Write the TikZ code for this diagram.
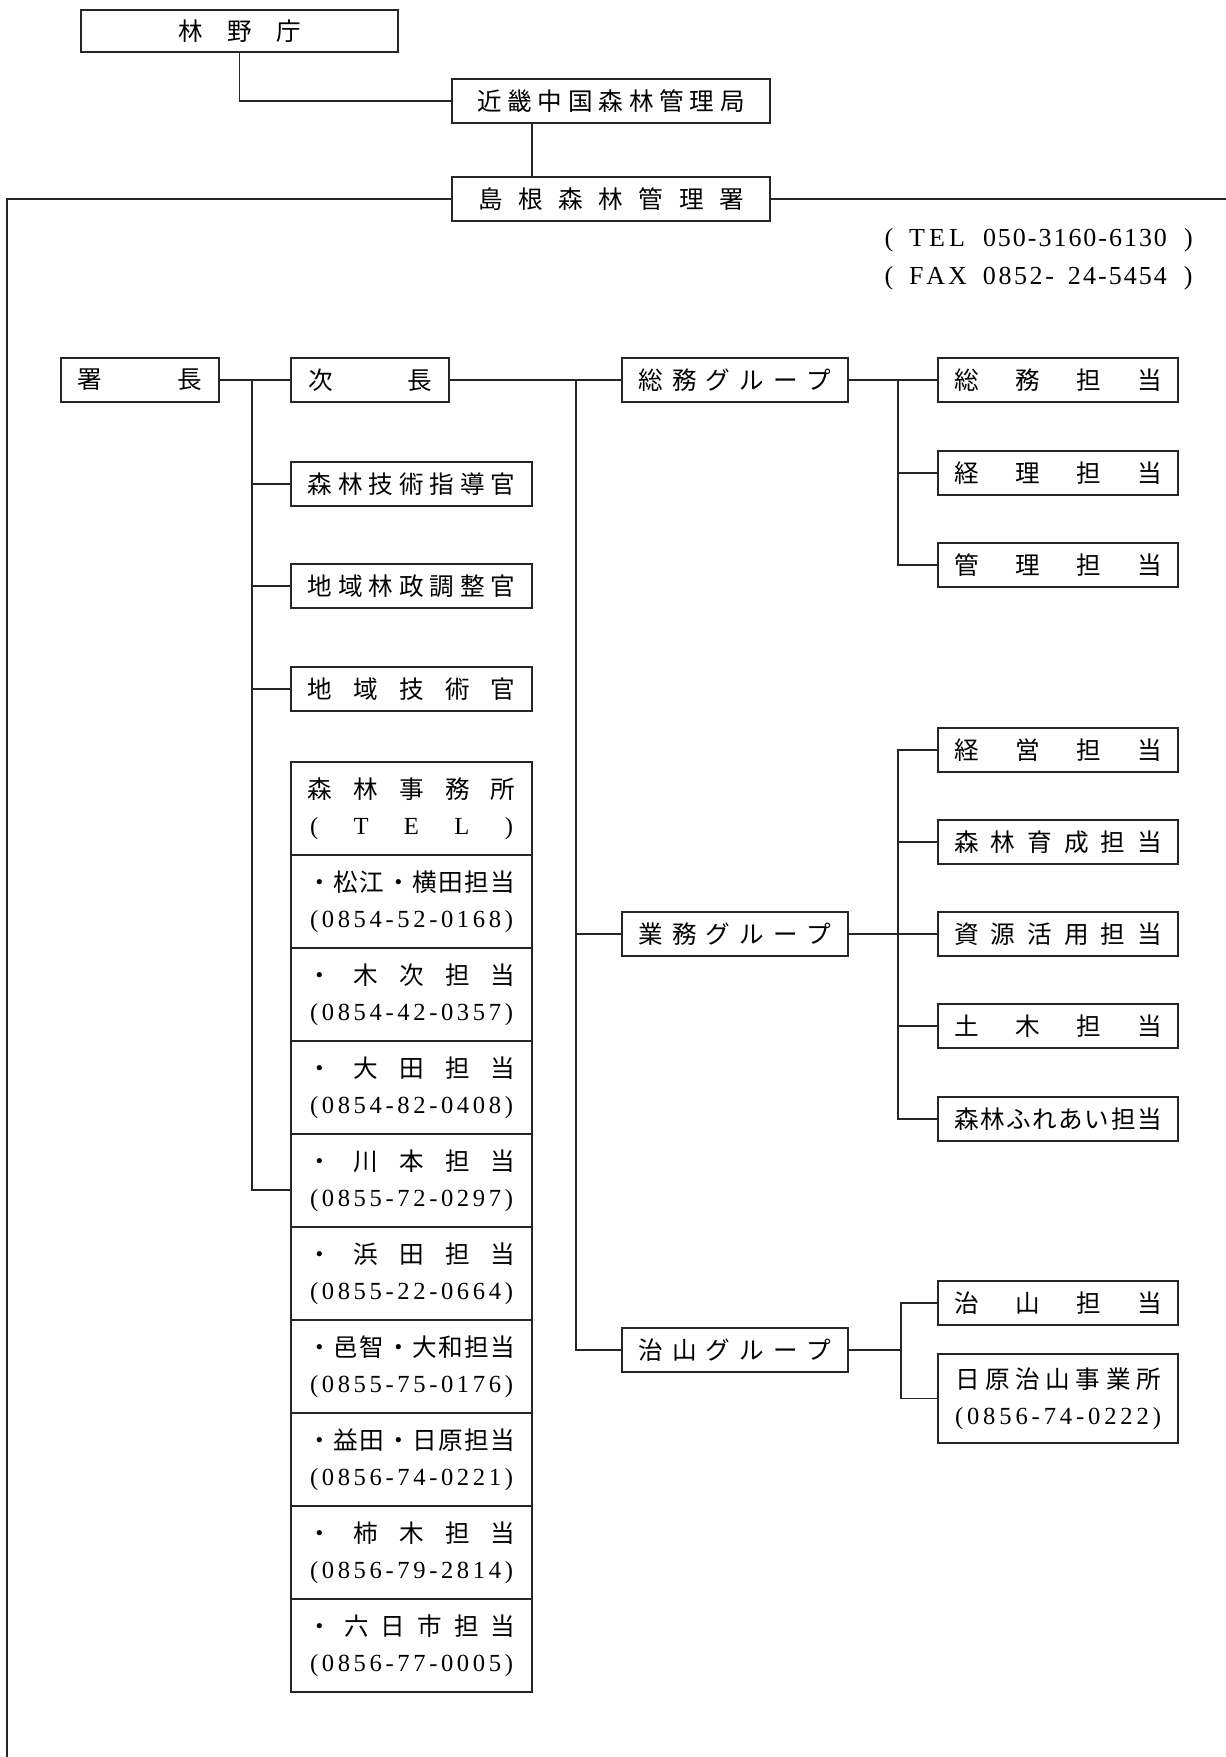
\documentclass[tikz,border=0pt]{standalone}
\usepackage{fontspec}
\setmainfont{Liberation Serif}
\newfontfamily\jpfont{Noto Sans CJK JP}
\usetikzlibrary{positioning}
\usetikzlibrary{calc}

\newlength\pxu
\setlength\pxu{0.02cm}
% spread the characters of #2 over a width of #1 px
\newcommand\SpList[1]{\ifx#1\relax\else#1\hfill\expandafter\SpList\fi}
\newcommand\Sp[2]{\makebox[#1\pxu][s]{\expandafter\SpList#2\relax\unskip}}

\begin{document}
\begin{tikzpicture}[
        x=0.02cm, y=-0.02cm,
        every node/.style={font=\jpfont\fontsize{14}{20.5}\selectfont},
        box/.style={draw=black!85, line width=1pt, inner sep=0pt, minimum height=44\pxu},
        tanto/.style={box, minimum width=240\pxu},
        staff/.style={box, minimum width=241\pxu},
        group/.style={box, minimum width=226\pxu},
        office/.style={box, minimum width=241\pxu, minimum height=93\pxu, align=center},
        tel/.style={font=\rmfamily\fontsize{14.8}{17}\selectfont, inner sep=0pt, anchor=east},
        link/.style={draw=black!85, line width=0.8pt}
    ]

        \useasboundingbox (0,0) rectangle (1226,1757);

        % -------------------------------------------------
        % 1. Agency, regional bureau, district office
        % -------------------------------------------------
        \node[box, minimum width=317\pxu, minimum height=42\pxu] (rinya) at (239.5,31) {\Sp{123}{林野庁}};
        \node[box, minimum width=318\pxu] (kinki) at (611,101) {\Sp{268}{近畿中国森林管理局}};
        \node[box, minimum width=318\pxu] (shimane) at (611,199) {\Sp{266}{島根森林管理署}};

        \coordinate (kinkiX) at (532,0);
        \coordinate (frameL) at (7,1757);
        \coordinate (frameR) at (1226,199);

        \draw[link] (rinya.south) |- (kinki.west);
        \draw[link] (kinki.south -| kinkiX) -- (shimane.north -| kinkiX);
        \draw[link] (shimane.west) -| (frameL);
        \draw[link] (shimane.east) -- (frameR);

        \node[tel] (tel) at (1193,240)
            {\makebox[308\pxu][s]{(\hfill\Sp{56}{TEL}\hspace{18\pxu}\Sp{184}{050-3160-6130}\hspace{17\pxu})}};
        \node[tel] (fax) at (1193,278)
            {\makebox[308\pxu][s]{(\hfill\Sp{58}{FAX}\hspace{16\pxu}\makebox[184\pxu][s]{\Sp{71}{0852-}\hfill\Sp{99}{24-5454}}\hspace{17\pxu})}};

        % -------------------------------------------------
        % 2. Head, deputy and staff
        % -------------------------------------------------
        \node[box, minimum width=158\pxu] (shocho) at (140,380) {\Sp{125}{署長}};
        \node[box, minimum width=158\pxu] (jicho) at (370,380) {\Sp{124}{次長}};

        \node[staff] (shido) at (411.5,484) {\Sp{208}{森林技術指導官}};
        \node[staff] (chosei) at (411.5,586) {\Sp{208}{地域林政調整官}};
        \node[staff] (gikan) at (411.5,689) {\Sp{208}{地域技術官}};

        % Forest offices
        \foreach \place/\phone [count=\i] in {
            森林事務所/(TEL),
            ・松江・横田担当/(0854-52-0168),
            ・木次担当/(0854-42-0357),
            ・大田担当/(0854-82-0408),
            ・川本担当/(0855-72-0297),
            ・浜田担当/(0855-22-0664),
            ・邑智・大和担当/(0855-75-0176),
            ・益田・日原担当/(0856-74-0221),
            ・柿木担当/(0856-79-2814),
            ・六日市担当/(0856-77-0005)} {
            \node[office] (office\i) at (411.5,{715.5+93*\i}) {\Sp{208}{\place}\\\rmfamily\Sp{203}{\phone}};
        }

        \coordinate (trunkA) at (252,380);
        \draw[link] (shocho) -- (jicho);
        \foreach \n in {shido,chosei,gikan} {
            \draw[link] (trunkA) |- (\n.west);
        }
        \draw[link] (trunkA) |- ($(office5.west)+(0,9.5)$);

        % -------------------------------------------------
        % 3. Groups and sections
        % -------------------------------------------------
        \node[group] (somuG) at (735,380) {\Sp{193}{総務グループ}};
        \node[group] (gyomuG) at (735,934) {\Sp{193}{業務グループ}};
        \node[group] (chisanG) at (735,1350) {\Sp{193}{治山グループ}};

        \node[tanto] (somu) at (1058,380) {\Sp{208}{総務担当}};
        \node[tanto] (keiri) at (1058,473) {\Sp{208}{経理担当}};
        \node[tanto] (kanri) at (1058,565) {\Sp{208}{管理担当}};

        \node[tanto] (keiei) at (1058,750) {\Sp{208}{経営担当}};
        \node[tanto] (ikusei) at (1058,842) {\Sp{208}{森林育成担当}};
        \node[tanto] (shigen) at (1058,934) {\Sp{208}{資源活用担当}};
        \node[tanto] (doboku) at (1058,1026) {\Sp{208}{土木担当}};
        \node[tanto] (fureai) at (1058,1119) {\Sp{208}{森林ふれあい担当}};

        \node[tanto] (chisan) at (1058,1303) {\Sp{208}{治山担当}};
        \node[tanto, minimum height=89\pxu, align=center] (hibara) at (1058,1398.5)
            {\Sp{206}{日原治山事業所}\\\rmfamily\Sp{206}{(0856-74-0222)}};

        \coordinate (trunkB) at (576,380);
        \coordinate (forkS) at (898,380);
        \coordinate (forkG) at (898,934);
        \coordinate (forkC) at (901,1350);

        \draw[link] (jicho) -- (somuG);
        \draw[link] (trunkB) |- (gyomuG.west);
        \draw[link] (trunkB) |- (chisanG.west);

        \draw[link] (somuG) -- (somu);
        \foreach \n in {keiri,kanri} {
            \draw[link] (forkS) |- (\n.west);
        }
        \draw[link] (gyomuG) -- (shigen);
        \foreach \n in {keiei,ikusei,doboku,fureai} {
            \draw[link] (forkG) |- (\n.west);
        }
        \draw[link] (chisanG.east) -- (forkC);
        \foreach \n in {chisan,hibara} {
            \draw[link] (forkC) |- (\n.west);
        }

    \end{tikzpicture}
\end{document}
